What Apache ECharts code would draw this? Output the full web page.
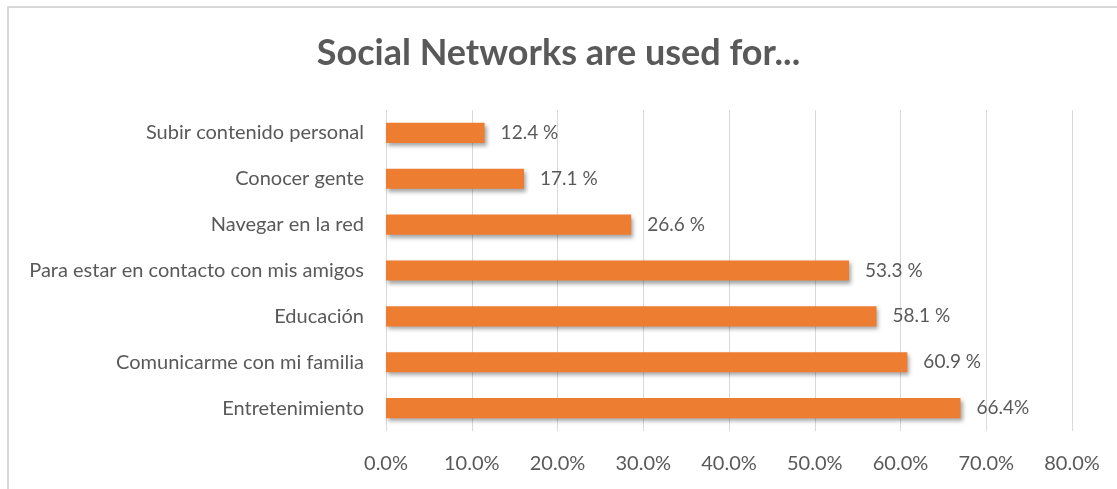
<!DOCTYPE html>
<html>
<head>
<meta charset="utf-8">
<script src="https://cdn.jsdelivr.net/npm/echarts@6/dist/echarts.min.js"></script>
<style>
  html, body { margin: 0; padding: 0; background: #fff; }
  #main { width: 1117px; height: 489px; }
</style>
</head>
<body>
<div id="main"></div>
<script>
// categories from bottom to top (category axis starts at the bottom)
var categories = ['Entretenimiento', 'Comunicarme con mi familia', 'Educación',
  'Para estar en contacto con mis amigos', 'Navegar en la red', 'Conocer gente',
  'Subir contenido personal'];
// bar lengths (%)
var barValues = [67.0, 60.8, 57.2, 54.0, 28.6, 16.1, 11.5];
// labels printed next to the bars
var valueLabels = ['66.4%', '60.9 %', '58.1 %', '53.3 %', '26.6 %', '17.1 %', '12.4 %'];
var xTicks = [0, 10, 20, 30, 40, 50, 60, 70, 80];

var mychart = echarts.init(document.getElementById('main'));
var grey = '#595959';
var font = 'Lato, "Open Sans", sans-serif';

var option = {
    animation: false,
    graphic: [{
        type: 'rect',
        shape: { x: 8, y: 7, width: 1200, height: 600 },
        style: { fill: 'none', stroke: '#d9d9d9', lineWidth: 2 },
        silent: true
    }],
    title: {
        text: 'Social Networks are used for...',
        left: 'center',
        top: 30,
        textStyle: { color: grey, fontSize: 36, fontWeight: 'bold', fontFamily: font }
    },
    grid: { left: 386, right: 45, top: 110, bottom: 58, containLabel: false },
    xAxis: {
        type: 'value',
        min: xTicks[0],
        max: xTicks[xTicks.length - 1],
        interval: 10,
        axisLine: { show: false },
        axisTick: { show: false },
        splitLine: { lineStyle: { color: '#d9d9d9', width: 1 } },
        axisLabel: {
            color: grey, fontSize: 20, fontFamily: font, margin: 23,
            formatter: function (v) { return v.toFixed(1) + '%'; }
        }
    },
    yAxis: {
        type: 'category',
        data: categories,
        axisLine: { show: false },
        axisTick: { show: false },
        axisLabel: { color: grey, fontSize: 20, fontFamily: font, margin: 22 }
    },
    series: [{
        type: 'bar',
        data: barValues,
        barCategoryGap: '56%',
        itemStyle: {
            color: '#ED7D31',
            shadowColor: 'rgba(0,0,0,0.35)',
            shadowBlur: 4,
            shadowOffsetX: 2,
            shadowOffsetY: 3
        },
        label: {
            show: true,
            position: 'right',
            distance: 16,
            color: grey,
            fontSize: 19,
            fontFamily: font,
            formatter: function (p) { return valueLabels[p.dataIndex]; }
        }
    }]
};
mychart.setOption(option);
</script>
</body>
</html>
